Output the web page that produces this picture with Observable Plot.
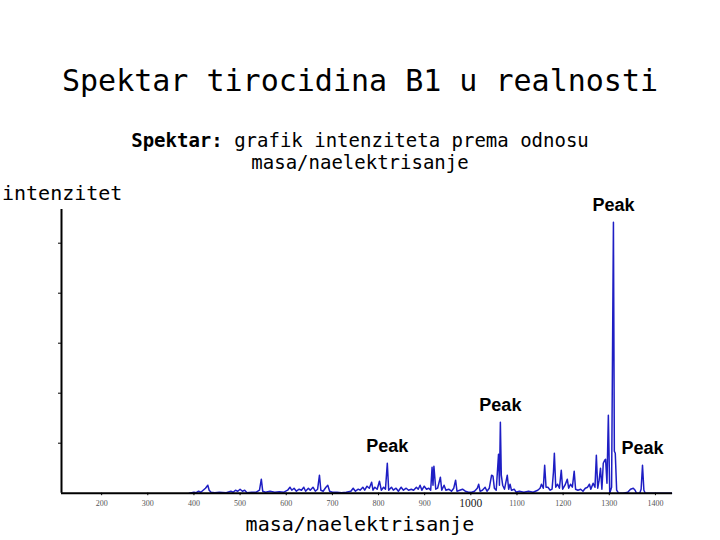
<!DOCTYPE html>
<html><head><meta charset="utf-8">
<script src="https://cdn.jsdelivr.net/npm/d3@7"></script>
<script src="https://cdn.jsdelivr.net/npm/@observablehq/plot@0.6"></script>
<style>
body{margin:0;background:#fff;}
#wrap{position:relative;width:720px;height:540px;overflow:hidden;background:#fff;}
#wrap svg{position:absolute;left:0;top:0;}
.t{position:absolute;white-space:pre;font-family:"DejaVu Sans Mono",monospace;color:#000;line-height:1;}
</style></head><body><div id="wrap"></div>
<script>
// m/z values and relative intensities (one y tick = 10 units)
const mz = [390,400,405,410,415,420,425,430,433,437,445,455,470,480,485,490,495,500,505,510,515,525,535,542,546,549,555,565,575,585,595,603,608,612,617,622,628,633,638,642,648,652,658,663,668,672,675,680,686,690,694,700,710,720,730,740,745,750,756,760,766,770,775,780,785,788,792,797,802,806,811,815,819,822,828,832,838,843,849,854,860,865,871,876,882,886,890,894,899,904,909,913,916,918,920,924,928,934,937,942,946,952,958,963,967,970,976,982,988,995,1002,1008,1014,1017,1020,1025,1031,1035,1040,1045,1048,1051,1055,1060,1062,1064,1066,1069,1073,1079,1082,1085,1088,1094,1098,1105,1115,1125,1135,1145,1150,1153,1157,1160,1163,1167,1172,1176,1179,1181,1184,1188,1192,1196,1199,1204,1209,1212,1216,1220,1224,1227,1232,1238,1243,1248,1253,1257,1260,1265,1269,1272,1275,1278,1281,1284,1287,1290,1292,1295,1298,1301,1305,1309,1311,1313,1316,1320,1330,1340,1346,1352,1356,1359,1366,1369,1372,1375,1378,1435];
const intensity = [0,0.2,0.1,0.4,0.2,0.6,1,1.6,0.6,0.2,0.1,0.2,0.1,0.4,0.2,0.6,0.4,0.8,0.4,0.6,0.1,0.2,0.2,0.6,2.8,0.4,0.2,0.4,0.2,0.3,0.2,0.6,1.2,0.6,1,0.4,0.8,0.6,1.2,0.4,1,0.6,1.2,0.4,0.8,3.6,0.6,0.4,1.2,1.6,0.4,0.2,0.2,0.1,0.2,0.4,1,0.4,0.8,0.6,1.2,0.6,1.4,1,2.2,0.6,1.2,0.8,2.4,0.6,1.2,0.8,6,0.6,1.2,0.6,1,0.4,1.2,0.6,1,0.6,0.8,0.6,1.2,0.8,1.6,0.6,1.4,0.8,1,0.6,5.2,1.6,5.4,0.8,1,3.2,0.6,1.6,0.6,0.8,0.4,1,2.6,0.4,0.6,0.8,0.4,0.2,0.2,0.4,1,1.8,0.4,0.6,1.2,0.4,1,3.6,3.4,1,0.6,7.8,1.6,14.2,3.6,1.6,0.8,3.6,0.8,1.8,0.6,0.8,0.2,0.4,0.2,0.4,0.2,0.6,1,1.8,1,5.6,1.2,1.2,0.6,0.8,4.2,8,1.2,1.8,1,4.6,0.8,1.6,2.8,1,1.8,1.2,4.4,0.8,0.6,0.8,0.4,1,1.2,1.8,0.8,2,1.2,7.6,1,2.6,5,0.8,6,6.6,6.8,2,15.6,0,1.2,54.2,8.4,8,0.6,0,0,0.2,0.8,1,0.6,0,0,0.8,5.6,0.6,0,0];
const peakMz = [1309, 1064, 819, 1372];
const peakLabels = ["Peak", "Peak", "Peak", "Peak"];
const xTicks = [200,300,400,500,600,700,800,900,1000,1100,1200,1300,1400];
const xTickBig = [1000];
const yTicks = [10,20,30,40,50];
const xDomain = [113, 1437];
const yDomain = [0, 56.74];
const titleText = "Spektar tirocidina B1 u realnosti";
const subBold = "Spektar:";
const subRest = " grafik intenziteta prema odnosu";
const subLine2 = "masa/naelektrisanje";
const yLabel = "intenzitet";
const xLabel = "masa/naelektrisanje";

const data = mz.map((m, i) => ({mz: m, I: intensity[i]}));
const peaks = peakMz.map((m, i) => ({mz: m, I: intensity[mz.indexOf(m)], label: peakLabels[i]}));

const chart = Plot.plot({
  width: 720, height: 540,
  marginLeft: 61, marginRight: 48, marginTop: 209, marginBottom: 47.3,
  x: {domain: xDomain},
  y: {domain: yDomain},
  style: {background: "white", overflow: "visible"},
  marks: [
    Plot.line(data, {x: "mz", y: "I", stroke: "#1e1ec4", strokeWidth: 1.5}),
    Plot.ruleX([xDomain[0]], {y1: yDomain[0], y2: yDomain[1], stroke: "#000", strokeWidth: 2}),
    Plot.ruleY([0], {x1: xDomain[0], x2: xDomain[1], stroke: "#000", strokeWidth: 2}),
    Plot.axisX({ticks: xTicks, tickSize: 2.5, tickPadding: 5, fontSize: 8, fontFamily: "Liberation Serif", fill: "#555", stroke: "#000", label: null, tickFormat: d => xTickBig.includes(d) ? "" : String(d)}),
    Plot.axisX({ticks: xTickBig, tickSize: 0, tickPadding: 6, fontSize: 11.5, fontFamily: "Liberation Serif", fill: "#222", label: null, tickFormat: d => String(d)}),
    Plot.axisY({ticks: yTicks, tickSize: 3, tickFormat: () => "", label: null, stroke: "#000"}),
    Plot.text(peaks, {x: "mz", y: "I", text: "label", dy: -17, fontSize: 18, fontWeight: "bold", fontFamily: "Liberation Sans", fill: "#000"})
  ]
});
const wrap = document.getElementById("wrap");
wrap.appendChild(chart);

function addText(html, size, left, top, center) {
  const d = document.createElement("div");
  d.className = "t";
  d.style.fontSize = size + "px";
  d.style.top = top + "px";
  if (center) { d.style.left = "0px"; d.style.width = "720px"; d.style.textAlign = "center"; d.style.paddingLeft = (left * 2) + "px"; d.style.boxSizing = "border-box"; }
  else d.style.left = left + "px";
  d.innerHTML = html;
  wrap.appendChild(d);
}
addText(titleText, 30, -5, 66, true);
addText("<b>" + subBold + "</b>" + subRest, 19, 0, 131, true);
addText(subLine2, 19, 0, 153, true);
addText(yLabel, 20, 2, 183, false);
addText(xLabel, 20, -6, 514, true);
</script></body></html>
